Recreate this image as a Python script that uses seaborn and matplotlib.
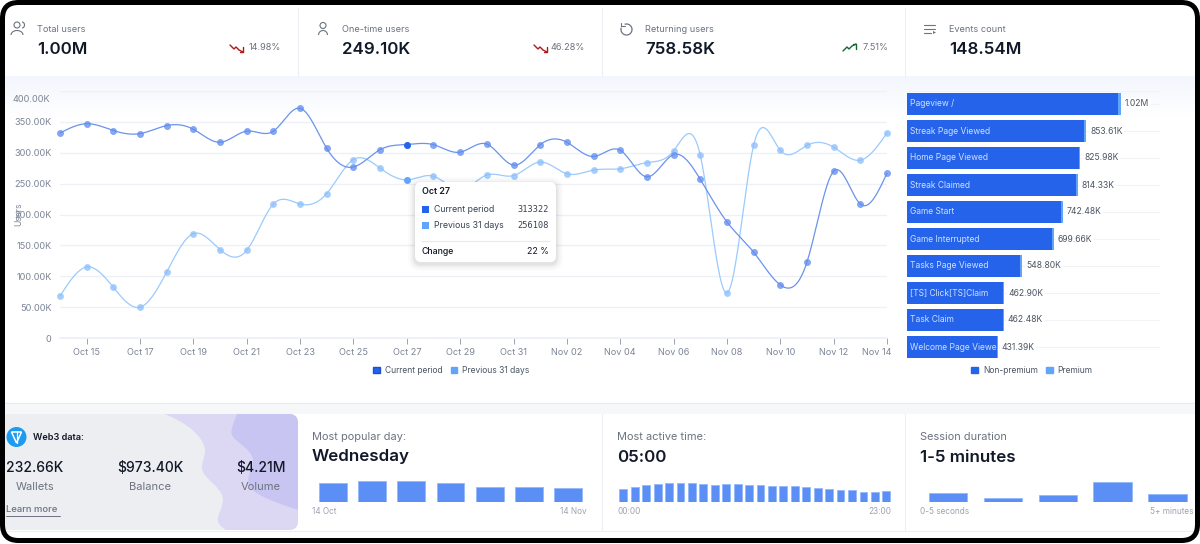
import numpy as np
import pandas as pd
import matplotlib.pyplot as plt
import seaborn as sns
from matplotlib.patches import FancyBboxPatch, Circle, Arc, Polygon, Patch, Rectangle
from matplotlib.lines import Line2D
from matplotlib.transforms import ScaledTranslation

sns.set_theme(style="white")
plt.rcParams['font.family'] = ['Inter', 'DejaVu Sans']

W, H = 1200, 544
BLUE = "#2563eb"
LIGHT = "#60a5fa"
GREY = "#6b7280"
TICK = "#7c8596"
DARK = "#111827"
GRID = "#eef0f6"


def px_axes(x0, y0, x1, y1, z=2):
    # axes placed with pixel coords, y counted from the top
    ax = fig.add_axes([x0 / W, 1 - y1 / H, (x1 - x0) / W, (y1 - y0) / H], zorder=z)
    ax.patch.set_alpha(0)
    return ax


def spline(x, y, n=20):
    # natural cubic spline, the chart draws its lines smoothed
    x = np.asarray(x, float)
    y = np.asarray(y, float)
    h = np.diff(x)
    A = np.zeros((len(x), len(x)))
    b = np.zeros(len(x))
    A[0, 0] = A[-1, -1] = 1
    for i in range(1, len(x) - 1):
        A[i, i - 1] = h[i - 1]
        A[i, i] = 2 * (h[i - 1] + h[i])
        A[i, i + 1] = h[i]
        b[i] = 6 * ((y[i + 1] - y[i]) / h[i] - (y[i] - y[i - 1]) / h[i - 1])
    m = np.linalg.solve(A, b)
    xs = np.linspace(x[0], x[-1], (len(x) - 1) * n + 1)
    idx = np.clip(np.searchsorted(x, xs, side="right") - 1, 0, len(x) - 2)
    t0 = x[idx + 1] - xs
    t1 = xs - x[idx]
    hh = h[idx]
    ys = (m[idx] * t0**3 + m[idx + 1] * t1**3) / (6 * hh) \
        + (y[idx] / hh - m[idx] * hh / 6) * t0 + (y[idx + 1] / hh - m[idx + 1] * hh / 6) * t1
    return xs, ys


fig = plt.figure(figsize=(12, 5.44), dpi=100, facecolor="white")

# background layer
bg = px_axes(0, 0, W, H, z=0)
bg.set_xlim(0, W)
bg.set_ylim(H, 0)
bg.axis("off")
grad = np.linspace(0, 1, 50).reshape(-1, 1)
bg.imshow(grad, extent=(5, 1195, 118, 76), aspect="auto", cmap=sns.blend_palette(["#f3f6fd", "#ffffff"], as_cmap=True))
bg.set_xlim(0, W)
bg.set_ylim(H, 0)
bg.add_patch(Rectangle((5, 403), 1190, 11, fc="#f6f7f9", ec="none"))
bg.plot([5, 1195], [402.5, 402.5], color="#e8eaef", lw=0.8)
bg.plot([5, 1195], [530.5, 530.5], color="#eceef2", lw=0.8)
for sx in [298, 602, 905]:
    bg.plot([sx, sx], [8, 76], color="#eceff4", lw=0.8)
for sx in [602, 905]:
    bg.plot([sx, sx], [414, 530], color="#eceff4", lw=0.8)

# top cards
cards = [
    (37, "Total users", "1.00M", "14.98%", 281, "#b01818", -1),
    (342, "One-time users", "249.10K", "46.28%", 585, "#b01818", -1),
    (645, "Returning users", "758.58K", "7.51%", 888, "#166534", 1),
    (949, "Events count", "148.54M", None, None, None, 0),
]
for x, name, val, pct, pr, col, sign in cards:
    bg.text(x, 29, name, fontsize=6.6, color=GREY, va="center")
    bg.text(x, 50, val, fontsize=12.2, color=DARK, va="center", fontweight="semibold")
    if pct:
        bg.text(pr, 48, pct, fontsize=6.6, color=GREY, va="center", ha="right")
        ax0 = pr - 51 if sign < 0 else pr - 45
        zz_x = np.array([0, 4, 6, 9, 13]) + ax0
        zz_y = np.array([-3, 1, -1, 2, 4]) * (1 if sign < 0 else -1) + 48
        bg.plot(zz_x, zz_y, color=col, lw=1)
        # little arrow head at the end of the zigzag
        bg.plot([ax0 + 9.5, ax0 + 13, ax0 + 13], [48 + 4 * sign * -1, 48 + 4 * sign * -1, 48 + sign], color=col, lw=1)

# card icons
ic = "#6b7280"
bg.add_patch(Circle((17, 25), 3, fc="none", ec=ic, lw=0.8))
bg.add_patch(Arc((17, 35), 12, 9, theta1=180, theta2=360, ec=ic, lw=0.8))
bg.add_patch(Arc((22, 25), 5, 6, theta1=-90, theta2=90, ec=ic, lw=0.8))
bg.add_patch(Circle((323, 25.5), 3, fc="none", ec=ic, lw=0.8))
bg.add_patch(Arc((323, 35), 9, 9, theta1=180, theta2=360, ec=ic, lw=0.8))
bg.add_patch(Arc((626.5, 29.5), 11, 11, theta1=250, theta2=200, ec=ic, lw=0.9))
bg.plot([621, 621, 625], [23, 26, 26], color=ic, lw=0.8)
for i, (a, b) in enumerate([(924, 935), (924, 935), (924, 931)]):
    bg.plot([a, b], [25 + i * 4, 25 + i * 4], color=ic, lw=0.8)
bg.add_patch(Polygon([[933, 31], [933, 34], [936, 32.5]], fc=ic, ec="none"))

# line chart data
days = pd.date_range("2024-10-14", "2024-11-14")
current = [332, 347, 336, 331, 344, 338, 317, 335, 335, 372, 307, 277, 305, 313.322, 313, 301,
           314, 280, 313, 317, 294, 304, 261, 297, 257, 188, 139, 86, 123, 270, 217, 267]
previous = [68, 115, 82, 50, 107, 169, 143, 142, 217, 217, 234, 289, 275, 256.108, 262, 240,
            264, 263, 285, 266, 272, 274, 284, 303, 296, 73, 312, 304, 312, 309, 288, 332]
df = pd.DataFrame({"day": np.arange(len(days)), "current": current, "previous": previous})
df[["current", "previous"]] *= 1000

ax = px_axes(60, 91, 887, 338)
for col, c_line, c_mark in [("previous", "#9ccafc", "#8abdfb"), ("current", "#6a93ee", "#5f8bee")]:
    xs, ys = spline(df["day"], df[col])
    sns.lineplot(x=xs, y=ys, color=c_line, lw=0.9, ax=ax, legend=False, clip_on=False)
    sns.scatterplot(data=df, x="day", y=col, color=c_mark, alpha=0.75, s=19, linewidth=0.6, edgecolor=c_line,
                    ax=ax, legend=False, clip_on=False, zorder=3)
hl = df[df["day"] == 13]
sns.scatterplot(data=hl, x="day", y="previous", color=LIGHT, s=24, linewidth=0, ax=ax, legend=False, zorder=4)
sns.scatterplot(data=hl, x="day", y="current", color=BLUE, s=24, linewidth=0, ax=ax, legend=False, zorder=4)

ax.set_xlim(0, 31)
ax.set_ylim(0, 400000)
ax.set_yticks(np.arange(0, 400001, 50000))
# the top label sits lower than its gridline, it gets placed on its own below
ax.set_yticklabels(["0"] + [f"{v}.00K" for v in range(50, 351, 50)] + [""])
tick_pos = np.arange(1, 32, 2)
ax.set_xticks(tick_pos)
ax.set_xticklabels([days[i].strftime("%b %d") for i in tick_pos])
ax.grid(axis="y", color=GRID, lw=1)
ax.set_axisbelow(True)
sns.despine(ax=ax, left=True, top=True, right=True)
ax.spines["bottom"].set_color(GRID)
ax.tick_params(axis="x", length=4, width=0.7, color="#9aa1ad", labelsize=6.6, labelcolor=TICK, pad=3, bottom=True)
ax.tick_params(axis="y", length=0, labelsize=6.6, labelcolor=TICK, pad=6)
ax.set_xlabel("")
ax.set_ylabel("")
last = ax.get_xticklabels()[-1]
last.set_ha("right")
last.set_transform(last.get_transform() + ScaledTranslation(3 / 72, 0, fig.dpi_scale_trans))
bg.text(50.5, 99, "400.00K", fontsize=6.6, color=TICK, ha="right", va="center")
bg.text(19, 214, "Users", rotation=90, fontsize=6.2, color=TICK, ha="center", va="center")

fig.legend(handles=[Patch(fc=BLUE, ec="#1d4ed8", label="Current period"), Patch(fc=LIGHT, ec=LIGHT, label="Previous 31 days")],
           loc="center", bbox_to_anchor=(451.5 / W, 1 - 370.5 / H), ncol=2, frameon=False, fontsize=6.1, handlelength=0.75,
           handleheight=0.75, handletextpad=0.6, columnspacing=1.0, labelcolor="#4b5563")

# top events chart
events = pd.DataFrame({
    "event": ["Pageview /", "Streak Page Viewed", "Home Page Viewed", "Streak Claimed", "Game Start",
              "Game Interrupted", "Tasks Page Viewed", "[TS] Click[TS]Claim", "Task Claim", "Welcome Page Viewed"],
    "total": [1020, 853.61, 825.98, 814.33, 742.48, 699.66, 548.80, 462.90, 462.48, 431.39],
    "premium": [14, 11, 9, 9, 9, 10, 10, 4, 4, 2],
})
events["non_premium"] = events["total"] - events["premium"]
total_labels = ["1.02M", "853.61K", "825.98K", "814.33K", "742.48K", "699.66K", "548.80K", "462.90K", "462.48K", "431.39K"]

ax2 = px_axes(907, 90.5, 1160, 360.5)
for i in range(len(events)):
    ax2.axhline(i, color="#f1f3f7", lw=0.8, zorder=0)
ax2.axhline(-0.5, color="#f1f3f7", lw=0.8, zorder=0)
ax2.axhline(9.5, color="#f1f3f7", lw=0.8, zorder=0)
sns.barplot(data=events, y="event", x="total", color=LIGHT, saturation=1, width=0.79, linewidth=0, ax=ax2, zorder=2)
sns.barplot(data=events, y="event", x="non_premium", color=BLUE, saturation=1, width=0.79, linewidth=0, ax=ax2, zorder=3)
ax2.set_xlim(0, 1205)
ax2.set_xticks([])
ax2.set_yticks([])
ax2.set_xlabel("")
ax2.set_ylabel("")
sns.despine(ax=ax2, left=True, bottom=True)
for i, row in events.iterrows():
    name = row["event"]
    if name.startswith("Welcome"):
        name = "Welcome Page Viewe."
    ax2.text(16, i, name, color="#cfe0ff", fontsize=6.1, va="center", zorder=5, clip_on=True)
    t = ax2.text(row["total"] + 18, i, total_labels[i], color="#4b5563", fontsize=6.2, va="center", zorder=5)
    t.set_bbox(dict(fc="white", ec="none", pad=1))

fig.legend(handles=[Patch(fc=BLUE, ec=BLUE, label="Non-premium"), Patch(fc=LIGHT, ec=LIGHT, label="Premium")],
           loc="center", bbox_to_anchor=(1032 / W, 1 - 370.5 / H), ncol=2, frameon=False, fontsize=6.1, handlelength=0.75,
           handleheight=0.75, handletextpad=0.6, columnspacing=1.0, labelcolor="#4b5563")

# web3 panel
panel = FancyBboxPatch((-20, 414), 318, 116, boxstyle="round,pad=0,rounding_size=9", fc="#eceef2", ec="none")
bg.add_patch(panel)
_, bx = spline([0, 1, 2, 3, 4, 5, 6], [165, 190, 205, 203, 222, 218, 226], n=12)
_, ly = spline([0, 1, 2, 3, 4, 5, 6], [414, 428, 450, 472, 495, 518, 530], n=12)
blob = Polygon(np.column_stack([np.r_[bx, 310, 310], np.r_[ly, 530, 414]]), fc="#dcd8f3", ec="none")
bg.add_patch(blob)
blob.set_clip_path(panel)
_, dx = spline([0, 1, 2, 3, 4, 5], [414, 428, 440, 460, 487, 510], n=12)
_, dy = spline([0, 1, 2, 3, 4, 5], [237, 232, 236, 253, 250, 298], n=12)
blob2 = Polygon(np.column_stack([np.r_[dy, 310, 310], np.r_[dx, 510, 414]]), fc="#c8c5f2", ec="none")
bg.add_patch(blob2)
blob2.set_clip_path(panel)

bg.add_patch(Circle((16.5, 437), 10, fc="#1d9bf0", ec="none", zorder=4))
bg.add_patch(Polygon([[11.5, 432], [21.5, 432], [16.5, 443]], fc="none", ec="white", lw=1.1, zorder=5))
bg.plot([16.5, 16.5], [432, 443], color="white", lw=0.9, zorder=5)
bg.text(33, 437, "Web3 data:", fontsize=6.6, color=DARK, va="center", fontweight="semibold")
for cx, val, lab in [(35, "232.66K", "Wallets"), (150, "$973.40K", "Balance"), (261, "$4.21M", "Volume")]:
    bg.text(cx, 468, val, fontsize=10, color=DARK, ha="center", va="center", fontweight="medium")
    bg.text(cx, 486.5, lab, fontsize=8, color=GREY, ha="center", va="center")
bg.text(6, 510, "Learn more", fontsize=6.8, color=GREY, va="center", fontweight="medium")
bg.plot([6, 59.5], [515.5, 515.5], color=GREY, lw=0.7)

# bottom cards
for x, title, big in [(312, "Most popular day:", "Wednesday"), (617, "Most active time:", "05:00"),
                      (920, "Session duration", "1-5 minutes")]:
    bg.text(x, 437, title, fontsize=7.9, color=GREY, va="center")
    bg.text(x, 457, big, fontsize=12.2, color=DARK, va="center", fontweight="semibold")

weekday = pd.DataFrame({"day": ["Mon", "Tue", "Wed", "Thu", "Fri", "Sat", "Sun"],
                        "v": [18.5, 20.5, 20.5, 19, 15, 15, 13.5]})
hourly = pd.DataFrame({"hour": [f"{h:02d}:00" for h in range(24)],
                       "v": [13, 15, 17, 18, 18.5, 19, 18.5, 18, 17, 17.5, 17.5, 17, 16.5, 15.5, 16, 16,
                             15, 13.5, 13, 11.5, 11.5, 10, 10, 11]})
session = pd.DataFrame({"bucket": ["0-5 seconds", "5-30 seconds", "30-60 seconds", "1-5 minutes", "5+ minutes"],
                        "v": [8.3, 3.7, 7, 19.3, 7.3]})
mini = [
    (px_axes(313.4, 481, 587.6, 501.7), weekday, "day", 0.714, 20.7),
    (px_axes(617.6, 481, 892, 501.7), hourly, "hour", 0.68, 20.7),
    (px_axes(920.5, 481, 1195, 501.7), session, "bucket", 0.70, 20.7),
]
for a, d, key, bw, top_v in mini:
    sns.barplot(data=d, x=key, y="v", color="#5b8ff5", saturation=1, width=bw, edgecolor="#93b8fb", linewidth=0.6, ax=a)
    a.set_ylim(0, top_v)
    a.axis("off")
for x, s, ha in [(312, "14 Oct", "left"), (587, "14 Nov", "right"), (617, "00:00", "left"), (891, "23:00", "right"),
                 (920, "0-5 seconds", "left"), (1193, "5+ minutes", "right")]:
    bg.text(x, 511, s, fontsize=5.9, color="#9ca3af", ha=ha, va="center")

# tooltip + frame on top of everything
top = px_axes(0, 0, W, H, z=6)
top.set_xlim(0, W)
top.set_ylim(H, 0)
top.axis("off")
for grow, al in [(7, 0.015), (5, 0.025), (3, 0.03), (1.5, 0.04)]:
    top.add_patch(FancyBboxPatch((415 - grow, 182 - grow + 2), 141 + 2 * grow, 80 + 2 * grow,
                                 boxstyle=f"round,pad=0,rounding_size={6 + grow}", fc="black", alpha=al, ec="none"))
top.add_patch(FancyBboxPatch((415, 182), 141, 80, boxstyle="round,pad=0,rounding_size=6", fc="white", ec="none"))
top.text(421.5, 191.5, "Oct 27", fontsize=6.4, color=DARK, va="center", fontweight="semibold")
for y, col, name, val in [(209, BLUE, "Current period", "313322"), (225, LIGHT, "Previous 31 days", "256108")]:
    top.add_patch(Rectangle((421.5, y - 3.5), 7, 7, fc=col, ec="none"))
    top.text(434.5, y, name, fontsize=6.3, color="#374151", va="center")
    top.text(548.5, y, val, fontsize=6.2, color="#374151", va="center", ha="right", family="DejaVu Sans Mono")
top.add_line(Line2D([421, 549], [241, 241], color="#e8eaef", lw=0.8))
top.text(421.5, 251.5, "Change", fontsize=6.3, color=DARK, va="center", fontweight="medium")
top.text(548.5, 251.5, "22 %", fontsize=6.3, color=DARK, va="center", ha="right")

top.add_patch(FancyBboxPatch((2.5, 2.5), W - 5, H - 6, boxstyle="round,pad=0,rounding_size=16", fc="none", ec="black", lw=3.6))

plt.savefig("out.png", dpi=100)
